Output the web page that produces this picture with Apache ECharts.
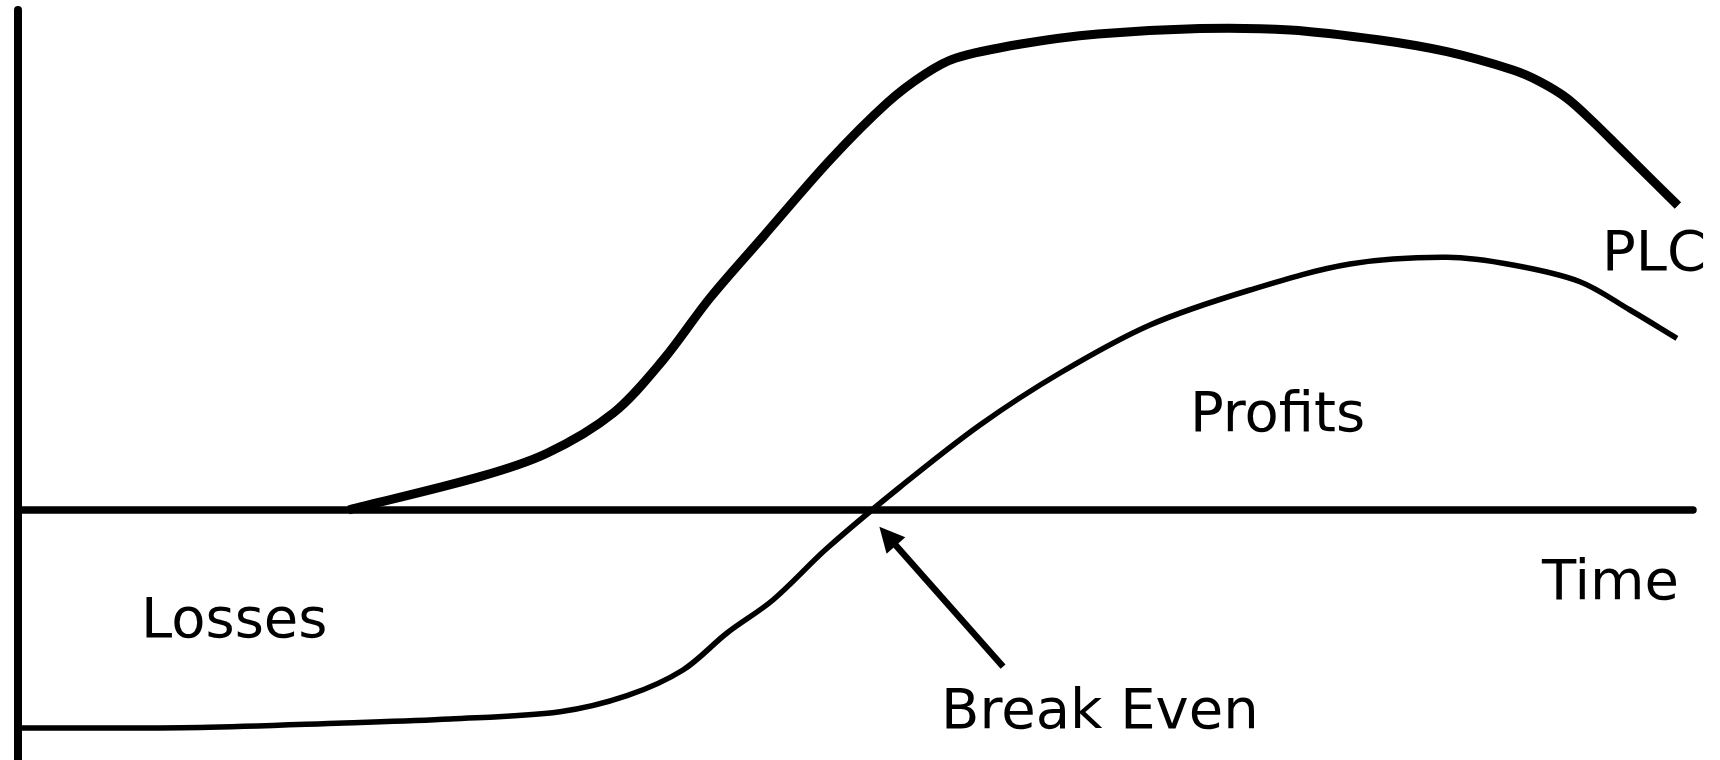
<!DOCTYPE html>
<html>
<head>
<meta charset="utf-8">
<title>PLC</title>
<script src="https://cdn.jsdelivr.net/npm/echarts@6/dist/echarts.min.js"></script>
<style>
  html, body { margin: 0; padding: 0; background: #fff; }
  #chart { width: 1720px; height: 760px; }
</style>
</head>
<body>
<div id="chart"></div>
<script>
// 产品生命周期曲线 (time 0..100, value: 0 = break even)
const plcTime = [19.73, 27.58, 31.58, 35.52, 38.51, 41.31, 44.48, 48.48, 51.88, 54.15, 56.0, 59.88, 64.48, 70.57, 75.94, 81.31, 85.31, 89.25, 90.87, 92.48, 94.03, 95.64, 99.1]
const plcValue = [0, 6.66, 11.34, 19.34, 30.0, 42.4, 54.66, 70.0, 81.4, 87.2, 90.4, 93.2, 95.2, 96.3, 96.0, 94.0, 91.66, 88.0, 85.66, 82.34, 77.66, 72.34, 60.9]

const profitTime = [0, 10.87, 19.46, 25.79, 32.36, 36.36, 39.7, 42.33, 45.07, 48.3, 52.66, 57.43, 62.21, 67.58, 73.55, 79.52, 85.31, 89.25, 93.25, 96.24, 99.04]
const profitValue = [-43.6, -43.5, -42.6, -41.8, -40.34, -37.14, -32.0, -24.6, -18.0, -7.66, 4.6, 17.0, 27.4, 37.0, 44.0, 49.2, 50.54, 49.0, 45.66, 40.0, 34.34]

// break even 箭头 (尾 -> 头)
const arrowFrom = [58.81, -31.34]
const arrowTo = [51.92, -5.22]

const chart = echarts.init(document.getElementById('chart'))

// 用坐标轴换算后的点画平滑曲线 (Catmull-Rom -> bezier)
function curvePath(api, xs, ys) {
  const pts = xs.map((x, i) => api.coord([x, ys[i]]))
  const dist = (a, b) => Math.hypot(b[0] - a[0], b[1] - a[1])
  const n = pts.length
  let d = 'M' + pts[0][0] + ' ' + pts[0][1]
  for (let i = 0; i < n - 1; i++) {
    const p0 = pts[Math.max(i - 1, 0)]
    const p1 = pts[i]
    const p2 = pts[i + 1]
    const p3 = pts[Math.min(i + 2, n - 1)]
    const d01 = dist(p0, p1), d12 = dist(p1, p2), d23 = dist(p2, p3)
    const k1 = d12 / (3 * (d01 + d12))
    const k2 = d12 / (3 * (d12 + d23))
    const c1 = [p1[0] + (p2[0] - p0[0]) * k1, p1[1] + (p2[1] - p0[1]) * k1]
    const c2 = [p2[0] - (p3[0] - p1[0]) * k2, p2[1] - (p3[1] - p1[1]) * k2]
    d += ' C' + c1[0] + ' ' + c1[1] + ' ' + c2[0] + ' ' + c2[1] + ' ' + p2[0] + ' ' + p2[1]
  }
  return d
}

function curveSeries(name, xs, ys, width) {
  return {
    name: name,
    type: 'custom',
    silent: true,
    data: [[xs[0], ys[0]]],
    renderItem: (params, api) => ({
      type: 'path',
      shape: { pathData: curvePath(api, xs, ys) },
      style: { fill: 'none', stroke: '#000', lineWidth: width, lineCap: 'butt', lineJoin: 'round' }
    })
  }
}

const font = '56px "DejaVu Sans", Verdana, sans-serif'
const label = (text, x, y) => ({
  type: 'text',
  x: x,
  y: y,
  style: { text: text, fill: '#000', font: font }
})

const option = {
  animation: false,
  backgroundColor: '#fff',
  grid: {
    left: 18,
    right: 27,
    top: 10,
    bottom: 0,
    containLabel: false
  },
  xAxis: {
    type: 'value',
    min: 0,
    max: 100,
    axisLine: { show: true, onZero: true, lineStyle: { color: '#000', width: 7.5 } },
    axisTick: { show: false },
    axisLabel: { show: false },
    splitLine: { show: false }
  },
  yAxis: {
    type: 'value',
    min: -50,
    max: 100,
    axisLine: { show: true, onZero: false, lineStyle: { color: '#000', width: 8 } },
    axisTick: { show: false },
    axisLabel: { show: false },
    splitLine: { show: false }
  },
  series: [
    curveSeries('PLC', plcTime, plcValue, 9),
    curveSeries('Profits', profitTime, profitValue, 5.5),
    {
      type: 'lines',
      coordinateSystem: 'cartesian2d',
      symbol: ['none', 'triangle'],
      symbolSize: [24, 25],
      lineStyle: { color: '#000', width: 6.5, opacity: 1, curveness: 0 },
      itemStyle: { color: '#000' },
      data: [{ coords: [arrowFrom, arrowTo] }]
    }
  ],
  graphic: [
    label('Losses', 141, 594.8),
    label('Profits', 1190, 388.8),
    label('PLC', 1602, 227.5),
    label('Time', 1542, 556.8),
    label('Break Even', 941, 685.3)
  ]
}

chart.setOption(option)
</script>
</body>
</html>
